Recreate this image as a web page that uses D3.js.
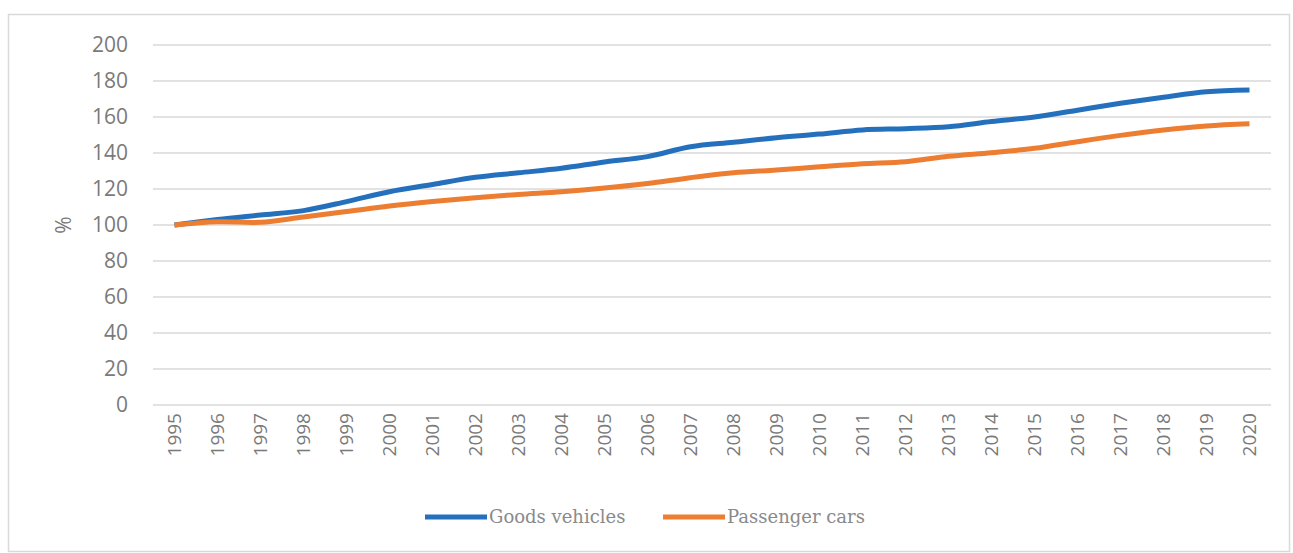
<!DOCTYPE html>
<html>
<head>
<meta charset="utf-8">
<script src="https://cdn.jsdelivr.net/npm/d3@7"></script>
<style>
  html, body { margin: 0; padding: 0; background: #fff; }
  svg { display: block; }
</style>
</head>
<body>
<svg id="chart" width="1293" height="553"></svg>
<script>
// Index of vehicle fleet growth, 1995 = 100
const years = ["1995","1996","1997","1998","1999","2000","2001","2002","2003","2004","2005","2006","2007",
  "2008","2009","2010","2011","2012","2013","2014","2015","2016","2017","2018","2019","2020"];
const goodsVehicles = [100, 103, 105.5, 108, 113, 118.5, 122.5, 126.5, 129, 131.5, 135, 138, 143.5,
  146, 148.5, 150.5, 152.8, 153.5, 154.6, 157.5, 160, 163.8, 167.6, 171, 174, 175];
const passengerCars = [100, 101.8, 101.5, 104.5, 107.5, 110.5, 113, 115.2, 117, 118.5, 120.5, 123, 126.3,
  129, 130.5, 132.3, 134, 135.2, 138.2, 140.2, 142.6, 146.3, 149.8, 152.8, 155, 156.2];
const yTicks = [0, 20, 40, 60, 80, 100, 120, 140, 160, 180, 200];
const seriesNames = ["Goods vehicles", "Passenger cars"];
const seriesColors = ["#2470bd", "#ed7d31"];

const svg = d3.select("#chart");

// outer chart frame
svg.append("rect")
  .attr("x", 8.5).attr("y", 14.5).attr("width", 1281).attr("height", 537)
  .attr("fill", "#fff").attr("stroke", "#d9d9d9").attr("stroke-width", 1.5);

const plot = { left: 153, right: 1271, top: 45, bottom: 405 };

const x = d3.scaleBand().domain(years).range([plot.left, plot.right]);
const y = d3.scaleLinear().domain([0, 200]).range([plot.bottom, plot.top]);

// horizontal gridlines
svg.append("g")
  .selectAll("line")
  .data(yTicks)
  .join("line")
  .attr("x1", plot.left).attr("x2", plot.right)
  .attr("y1", d => y(d)).attr("y2", d => y(d))
  .attr("stroke", "#d9d9d9").attr("stroke-width", 1.6);

// y axis labels
const yAxis = svg.append("g")
  .attr("transform", `translate(${plot.left - 25},0)`)
  .call(d3.axisLeft(y).tickValues(yTicks).tickSize(0).tickPadding(0));
yAxis.select(".domain").remove();
yAxis.selectAll("text")
  .attr("font-family", "'Open Sans', sans-serif")
  .attr("font-size", 21)
  .attr("fill", "#7a7a7a");

// y axis title
svg.append("text")
  .attr("transform", `translate(71,${y(100)}) rotate(-90)`)
  .attr("text-anchor", "middle")
  .attr("font-family", "'Open Sans', sans-serif")
  .attr("font-size", 21)
  .attr("fill", "#7a7a7a")
  .text("%");

// x axis labels, rotated
const xAxis = svg.append("g")
  .attr("transform", `translate(0,${plot.bottom + 8})`)
  .call(d3.axisBottom(x).tickSize(0).tickPadding(0));
xAxis.select(".domain").remove();
xAxis.selectAll("text")
  .attr("font-family", "'Open Sans', sans-serif")
  .attr("font-size", 19)
  .attr("fill", "#7a7a7a")
  .attr("text-anchor", "end")
  .attr("dy", "0.35em")
  .attr("transform", "rotate(-90)")
  .attr("x", 0).attr("y", 0);

// series lines
const line = d3.line()
  .x((d, i) => x(years[i]) + x.bandwidth() / 2)
  .y(d => y(d))
  .curve(d3.curveCatmullRom.alpha(0.5));

[goodsVehicles, passengerCars].forEach((vals, k) => {
  svg.append("path")
    .datum(vals)
    .attr("fill", "none")
    .attr("stroke", seriesColors[k])
    .attr("stroke-width", 5)
    .attr("stroke-linejoin", "round")
    .attr("d", line);
});

// legend
const legendItems = [
  { name: seriesNames[0], color: seriesColors[0], x: 425 },
  { name: seriesNames[1], color: seriesColors[1], x: 663 }
];
const legend = svg.append("g");
legendItems.forEach(item => {
  legend.append("line")
    .attr("x1", item.x).attr("x2", item.x + 62)
    .attr("y1", 517).attr("y2", 517)
    .attr("stroke", item.color).attr("stroke-width", 5);
  legend.append("text")
    .attr("x", item.x + 64).attr("y", 517)
    .attr("dy", "0.35em")
    .attr("font-family", "'DejaVu Serif', serif")
    .attr("font-size", 18)
    .attr("fill", "#8a8a8a")
    .text(item.name);
});
</script>
</body>
</html>
